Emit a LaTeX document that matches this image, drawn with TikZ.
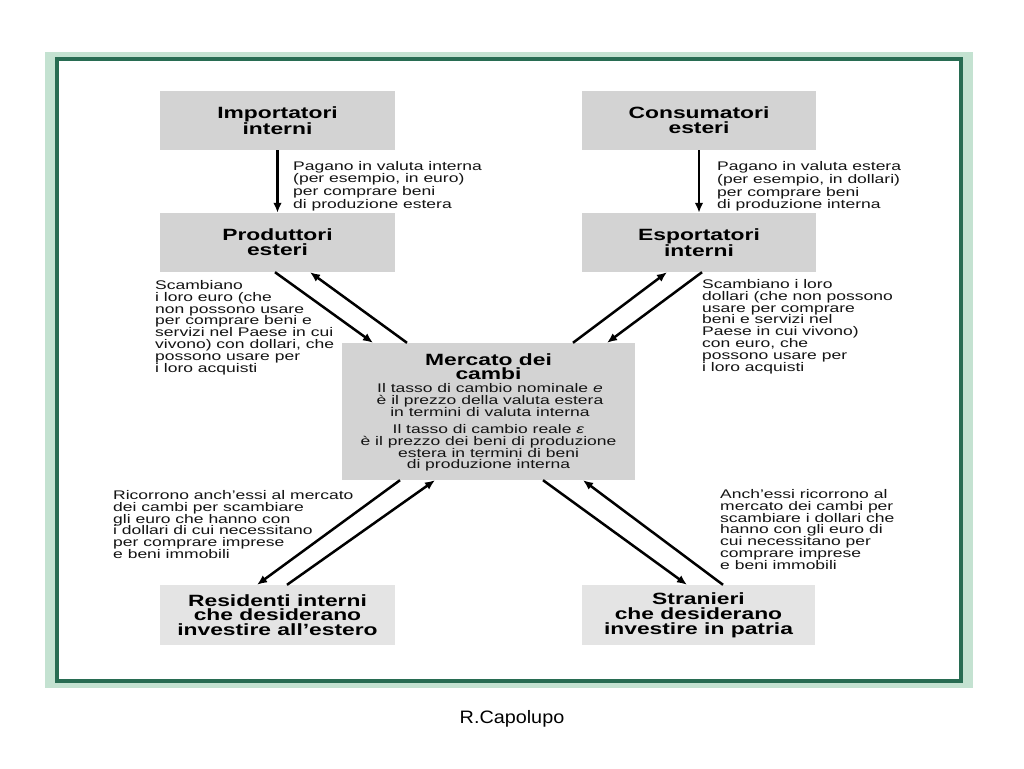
\documentclass[tikz,border=0pt]{standalone}
\usepackage{fontspec}
\setmainfont{Liberation Sans}[FakeStretch=1.4]
\newfontfamily\capfont{Liberation Sans}[FakeStretch=1.1]
\usetikzlibrary{arrows.meta,calc}
\definecolor{frameDark}{RGB}{40,108,82}
\definecolor{frameLight}{RGB}{196,226,209}
\definecolor{boxA}{RGB}{211,211,211}
\definecolor{boxB}{RGB}{228,228,228}
\definecolor{txt}{RGB}{20,20,20}
\tikzset{
  boxtop/.style={fill=boxA, draw=none, minimum width=235pt, minimum height=59pt,
    inner sep=0pt, align=center, text=black,
    font=\fontsize{16.3}{14.8}\selectfont\bfseries},
  boxbot/.style={boxtop, fill=boxB, minimum height=60pt},
  lbl/.style={anchor=north west, inner sep=0pt, align=left, text=txt,
    font=\fontsize{12.5}{11.9}\selectfont},
  ctxt/.style={anchor=north, inner sep=0pt, align=center, text=txt,
    font=\fontsize{12.5}{11.9}\selectfont},
  arr/.style={line width=2.5pt, draw=black, -{Latex[length=10pt,width=8.5pt]}}
}
\begin{document}
\begin{tikzpicture}[x=1pt,y=-1pt]
\useasboundingbox (0,0) rectangle (1024,768);
\fill[white] (0,0) rectangle (1024,768);
% frame
\fill[frameLight] (45,52) rectangle (973,688);
\draw[frameDark, line width=4pt, fill=white] (57,59) rectangle (961,681);

% boxes
\node[boxtop] (imp) at (277.5,120.5) {Importatori\\interni};
\node[boxtop] (prod) at (277.5,242.5) {Produttori\\esteri};
\node[boxtop, minimum width=234pt] (cons) at (699,120.5) {Consumatori\\esteri};
\node[boxtop, minimum width=234pt] (esp) at (699,242.5) {Esportatori\\interni};
\node[boxtop, minimum width=293pt, minimum height=137pt] (merc) at (488.5,411.5) {};
\node[boxbot] (res) at (277.5,615) {Residenti interni\\che desiderano\\investire all’estero};
\node[boxbot, minimum width=233pt] (stra) at (698.5,615) {Stranieri\\che desiderano\\investire in patria};

% central texts
\node[ctxt, text=black, font=\fontsize{16.3}{14.5}\selectfont\bfseries] (mtitle) at (488.5,353) {Mercato dei\\cambi};
\node[ctxt] (mnom) at (490,383) {Il tasso di cambio nominale \textit{e}\\è il prezzo della valuta estera\\in termini di valuta interna};
\node[ctxt] (mreal) at (488.5,424) {Il tasso di cambio reale \textit{ε}\\è il prezzo dei beni di produzione\\estera in termini di beni\\di produzione interna};

% vertical arrows
\draw[arr] (imp.south) -- (prod.north);
\draw[arr] (cons.south) -- (esp.north);

% diagonal arrows
\draw[arr] ($(prod.south)+(-2.5,0)$) -- ($(merc.north)+(-115.5,0)$);
\draw[arr] ($(merc.north)+(-81.5,0)$) -- ($(prod.south)+(32.5,0)$);
\draw[arr] ($(merc.north)+(84.5,0)$) -- ($(esp.south)+(-32,0)$);
\draw[arr] ($(esp.south)+(3,0)$) -- ($(merc.north)+(118.5,0)$);
\draw[arr] ($(merc.south)+(-88.5,0)$) -- ($(res.north)+(-20.5,0)$);
\draw[arr] ($(res.north)+(9.5,0)$) -- ($(merc.south)+(-53.5,0)$);
\draw[arr] ($(merc.south)+(54.5,0)$) -- ($(stra.north)+(-11.5,0)$);
\draw[arr] ($(stra.north)+(24.5,0)$) -- ($(merc.south)+(94.5,0)$);

% labels
\node[lbl, font=\fontsize{12.5}{11.3}\selectfont] (l1) at (293,161) {Pagano in valuta interna\\(per esempio, in euro)\\per comprare beni\\di produzione estera};
\node[lbl, font=\fontsize{12.5}{11.3}\selectfont] (l2) at (717,161.5) {Pagano in valuta estera\\(per esempio, in dollari)\\per comprare beni\\di produzione interna};
\node[lbl] (l3) at (155,280) {Scambiano\\i loro euro (che\\non possono usare\\per comprare beni e\\servizi nel Paese in cui\\vivono) con dollari, che\\possono usare per\\i loro acquisti};
\node[lbl] (l4) at (702,279) {Scambiano i loro\\dollari (che non possono\\usare per comprare\\beni e servizi nel\\Paese in cui vivono)\\con euro, che\\possono usare per\\i loro acquisti};
\node[lbl] (l5) at (113,490) {Ricorrono anch’essi al mercato\\dei cambi per scambiare\\gli euro che hanno con\\i dollari di cui necessitano\\per comprare imprese\\e beni immobili};
\node[lbl] (l6) at (720,489) {Anch’essi ricorrono al\\mercato dei cambi per\\scambiare i dollari che\\hanno con gli euro di\\cui necessitano per\\comprare imprese\\e beni immobili};

% caption
\node[anchor=base, inner sep=0pt, text=black, font=\capfont\fontsize{18}{20}\selectfont] (cap) at (512,723) {R.Capolupo};
\end{tikzpicture}
\end{document}
